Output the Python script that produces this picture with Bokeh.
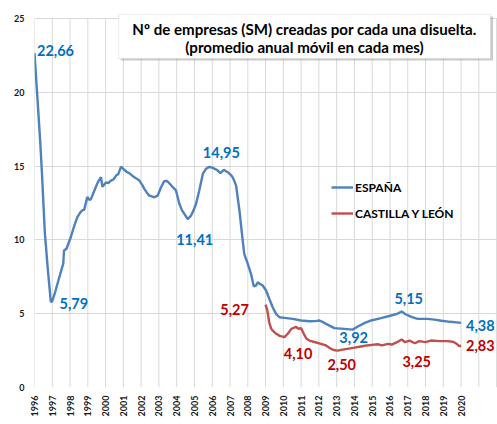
from bokeh.plotting import figure
from bokeh.models import (ColumnDataSource, Range1d, FixedTicker, Legend, LegendItem,
                          BoxAnnotation, Label)
from bokeh.core.properties import value
from bokeh.embed import file_html
from bokeh.resources import INLINE
import math

# ---------------- data ----------------
ESP_T = [1996.00, 1996.17, 1996.33, 1996.42, 1996.58, 1996.75, 1996.92, 1997.00, 1997.17, 1997.38,
         1997.56, 1997.62, 1997.66, 1997.80, 1998.04, 1998.25, 1998.41, 1998.60, 1998.69, 1998.80,
         1998.97, 1999.10, 1999.18, 1999.37, 1999.56, 1999.74, 1999.82, 1999.90, 2000.02, 2000.15,
         2000.30, 2000.45, 2000.59, 2000.72, 2000.87, 2001.05, 2001.20, 2001.33, 2001.50, 2001.62,
         2001.75, 2001.90, 2002.05, 2002.18, 2002.32, 2002.46, 2002.60, 2002.74, 2002.93, 2003.12,
         2003.30, 2003.42, 2003.53, 2003.65, 2003.78, 2003.96, 2004.15, 2004.30, 2004.43, 2004.62,
         2004.81, 2004.95, 2005.09, 2005.27, 2005.47, 2005.65, 2005.84, 2006.03, 2006.17, 2006.31,
         2006.46, 2006.65, 2006.87, 2007.05, 2007.15, 2007.24, 2007.34, 2007.43, 2007.53, 2007.62,
         2007.72, 2007.80, 2008.00, 2008.18, 2008.34, 2008.46, 2008.56, 2008.70, 2008.84, 2009.03,
         2009.21, 2009.40, 2009.59, 2009.78, 2010.06, 2010.53, 2011.00, 2011.47, 2011.80, 2012.03,
         2012.20, 2012.40, 2012.87, 2013.43, 2013.90, 2014.19, 2014.56, 2014.94, 2015.50, 2016.06,
         2016.40, 2016.66, 2016.85, 2017.20, 2017.56, 2018.10, 2018.50, 2018.90, 2019.40, 2020.00]
ESP_V = [22.66, 19.50, 16.50, 14.50, 10.50, 8.00, 5.79, 5.85, 6.50, 7.40,
         8.15, 8.40, 9.28, 9.40, 10.18, 11.00, 11.54, 11.90, 12.00, 12.05,
         12.90, 12.70, 12.78, 13.35, 13.90, 14.25, 13.60, 13.70, 13.90, 13.85,
         14.02, 14.10, 14.36, 14.47, 14.97, 14.75, 14.60, 14.52, 14.35, 14.25,
         14.15, 14.02, 13.75, 13.46, 13.20, 13.00, 12.95, 12.89, 13.00, 13.57,
         13.98, 14.00, 13.91, 13.75, 13.57, 13.35, 12.45, 12.00, 11.77, 11.41,
         11.65, 12.00, 12.45, 13.35, 14.47, 14.82, 14.95, 14.88, 14.80, 14.70,
         14.52, 14.75, 14.59, 14.40, 14.25, 14.00, 13.69, 12.89, 12.00, 11.00,
         9.90, 9.06, 8.38, 7.70, 6.85, 6.90, 7.13, 7.00, 6.91, 6.57,
         6.01, 5.44, 4.99, 4.76, 4.72, 4.65, 4.54, 4.49, 4.50, 4.54,
         4.45, 4.31, 4.02, 3.97, 3.92, 4.13, 4.36, 4.54, 4.70, 4.88,
         4.99, 5.15, 4.98, 4.78, 4.65, 4.65, 4.60, 4.52, 4.45, 4.38]

CYL_T = [2009.00, 2009.10, 2009.21, 2009.31, 2009.45, 2009.60, 2009.80, 2010.06, 2010.25, 2010.45,
         2010.60, 2010.72, 2010.85, 2011.00, 2011.15, 2011.30, 2011.47, 2011.70, 2012.12, 2012.40,
         2012.68, 2012.90, 2013.06, 2013.25, 2013.60, 2014.00, 2014.37, 2014.70, 2015.00, 2015.30,
         2015.55, 2015.88, 2016.10, 2016.40, 2016.66, 2016.85, 2017.10, 2017.40, 2017.65, 2018.00,
         2018.30, 2018.80, 2019.20, 2019.55, 2019.75, 2019.90, 2020.00]
CYL_V = [5.62, 5.22, 4.40, 4.00, 3.80, 3.64, 3.50, 3.41, 3.64, 3.97,
         4.05, 4.10, 3.98, 4.02, 3.64, 3.30, 3.18, 3.10, 2.96, 2.85,
         2.62, 2.52, 2.50, 2.55, 2.62, 2.70, 2.78, 2.85, 2.89, 2.93,
         2.85, 2.96, 2.91, 3.07, 3.25, 3.07, 3.18, 3.00, 3.14, 3.07,
         3.18, 3.14, 3.14, 3.10, 2.96, 2.80, 2.83]

YEAR_TICKS = list(range(1996, 2021))
GRID_YEARS = list(range(1996, 2023))
Y_TICKS = [0, 5, 10, 15, 20, 25]

# data labels: (anchor year, text)
ESP_LABELS = [(1996.00, "22,66"), (1996.92, "5,79"), (2004.62, "11,41"), (2005.84, "14,95"),
              (2016.66, "5,15"), (2013.90, "3,92"), (2020.00, "4,38")]
CYL_LABELS = [(2009.00, "5,27"), (2010.72, "4,10"), (2013.06, "2,50"), (2016.66, "3,25"),
              (2020.00, "2,83")]

TITLE_1 = "Nº de empresas (SM) creadas por cada una disuelta."
TITLE_2 = "(promedio anual móvil en cada mes)"

# ---------------- styling / layout ----------------
BLUE_LINE = "#4F81BD"
RED_LINE = "#C0504D"
BLUE_TXT = "#0070C0"
RED_TXT = "#C00000"
GRID = "#d9d9d9"
FONT = "Lato"

# label offsets in pixels (dx, dy; dy positive = down), align
ESP_OFF = [(21, -3, "center"), (23, 1, "center"), (7, 20, "center"), (12, -14, "center"),
           (7, -13, "center"), (1, 8, "center"), (5, 3, "left")]
CYL_OFF = [(-31, 5, "center"), (2, 27, "center"), (4, 14, "center"), (15, 22, "center"),
           (5, 0, "left")]

p = figure(width=497, height=424, output_backend="svg", toolbar_location=None,
           x_range=Range1d(1996, 2022.05), y_range=Range1d(0, 25.61),
           min_border_left=34, min_border_right=0, min_border_top=9, min_border_bottom=37)
p.outline_line_color = None
p.background_fill_color = "white"

# grid
p.xgrid.visible = False
p.ygrid.ticker = FixedTicker(ticks=Y_TICKS)
p.ygrid.grid_line_color = GRID
p.ygrid.grid_line_width = 1
p.segment(x0=GRID_YEARS, y0=[Y_TICKS[0]] * len(GRID_YEARS),
          x1=GRID_YEARS, y1=[Y_TICKS[-1]] * len(GRID_YEARS),
          line_color=GRID, line_width=1, level="underlay")

# axes
p.xaxis.ticker = FixedTicker(ticks=YEAR_TICKS)
p.yaxis.ticker = FixedTicker(ticks=Y_TICKS)
for ax in (p.xaxis[0], p.yaxis[0]):
    ax.axis_line_color = None
    ax.major_tick_line_color = None
    ax.minor_tick_line_color = None
    ax.major_tick_out = 0
    ax.major_tick_in = 0
    ax.minor_tick_out = 0
    ax.minor_tick_in = 0
    ax.major_label_text_font = FONT
    ax.major_label_text_font_style = "bold"
    ax.major_label_text_font_size = "9px"
    ax.major_label_text_color = "#1a1a1a"
p.xaxis.major_label_orientation = math.pi / 2
p.xaxis.major_label_standoff = 8
p.yaxis.major_label_standoff = 10

# lines
r_esp = p.line(ESP_T, ESP_V, line_color=BLUE_LINE, line_width=2.4)
r_cyl = p.line(CYL_T, CYL_V, line_color=RED_LINE, line_width=2.4)


def label_source(ts, vs, labels, offs):
    xs, ys, txt, dx, dy, al = [], [], [], [], [], []
    for (yr, t), (ox, oy, a) in zip(labels, offs):
        i = min(range(len(ts)), key=lambda k: abs(ts[k] - yr))
        xs.append(ts[i]); ys.append(vs[i]); txt.append(t)
        dx.append(ox); dy.append(oy); al.append(a)
    return ColumnDataSource(dict(x=xs, y=ys, text=txt, dx=dx, dy=dy, align=al))


for ts, vs, labs, offs, col in ((ESP_T, ESP_V, ESP_LABELS, ESP_OFF, BLUE_TXT),
                                (CYL_T, CYL_V, CYL_LABELS, CYL_OFF, RED_TXT)):
    src = label_source(ts, vs, labs, offs)
    p.text(x="x", y="y", text="text", x_offset="dx", y_offset="dy", text_align="align",
           source=src, text_baseline="middle", text_font=value(FONT), text_font_style="bold",
           text_font_size="14.5px", text_color=col)

# legend
legend = Legend(items=[LegendItem(label="ESPAÑA", renderers=[r_esp]),
                       LegendItem(label="CASTILLA Y LEÓN", renderers=[r_cyl])],
                location=(297, 164), orientation="vertical",
                glyph_width=22, glyph_height=20, label_height=20, spacing=6,
                padding=0, margin=0, label_standoff=2,
                border_line_color=None, background_fill_alpha=0,
                label_text_font=FONT, label_text_font_style="bold",
                label_text_font_size="12px", label_text_color="#000000")
p.add_layout(legend)

# title box (shadow + box) in data units
p.add_layout(BoxAnnotation(left=2000.85, right=2021.80, top=25.13, bottom=22.15,
                           fill_color="#8c8c8c", fill_alpha=0.45, line_color=None))
p.add_layout(BoxAnnotation(left=2000.73, right=2021.66, top=25.27, bottom=22.29,
                           fill_color="white", fill_alpha=1.0, line_color="#bfbfbf",
                           line_width=1))
for txt, yy in ((TITLE_1, 24.32), (TITLE_2, 23.04)):
    p.add_layout(Label(x=2011.19, y=yy, text=txt, text_align="center", text_baseline="middle",
                       text_font=FONT, text_font_style="bold", text_font_size="15.1px",
                       text_color="#000000"))

open("out.html", "w").write(file_html(p, INLINE))
